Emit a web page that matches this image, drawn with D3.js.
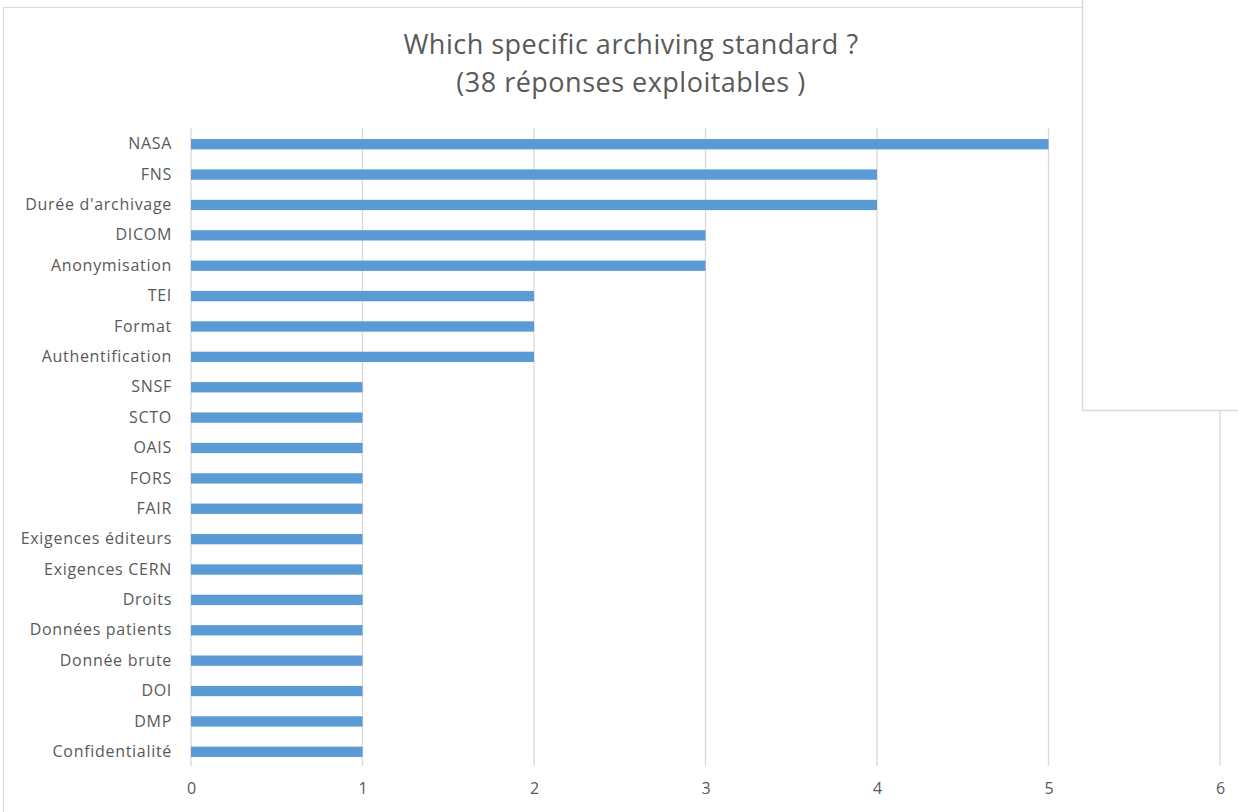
<!DOCTYPE html>
<html><head><meta charset="utf-8">
<script src="https://cdn.jsdelivr.net/npm/d3@7"></script>
<style>body{margin:0;background:#fff;} svg{display:block;}</style>
</head><body>
<script>
const categories = ["NASA","FNS","Durée d'archivage","DICOM","Anonymisation","TEI","Format","Authentification","SNSF","SCTO","OAIS","FORS","FAIR","Exigences éditeurs","Exigences CERN","Droits","Données patients","Donnée brute","DOI","DMP","Confidentialité"];
const values = [5,4,4,3,3,2,2,2,1,1,1,1,1,1,1,1,1,1,1,1,1];
const xTicks = [0,1,2,3,4,5,6];
const titleLines = ["Which specific archiving standard ?","(38 réponses exploitables )"];

const W=1238,H=812;
const svg=d3.select("body").append("svg").attr("width",W).attr("height",H);
const font="'Open Sans', sans-serif";
svg.append("rect").attr("x",3.5).attr("y",7.5).attr("width",1300).attr("height",900).attr("fill","#fff").attr("stroke","#d9d9d9");

const x=d3.scaleLinear().domain([0,6]).range([191,1220]);
const y=d3.scaleBand().domain(categories).range([129,767]).paddingInner(0.66).paddingOuter(0.33);

svg.append("g").selectAll("line").data(xTicks).join("line")
 .attr("x1",d=>x(d)).attr("x2",d=>x(d)).attr("y1",128).attr("y2",766)
 .attr("stroke","#d9d9d9").attr("stroke-width",1.3);

svg.append("g").selectAll("rect").data(categories).join("rect")
 .attr("x",x(0)).attr("y",d=>y(d)).attr("height",y.bandwidth())
 .attr("width",(d,i)=>x(values[i])-x(0)).attr("fill","#5b9bd5");

const xa=svg.append("g").attr("transform","translate(0,766)").call(d3.axisBottom(x).tickValues(xTicks).tickFormat(d3.format("d")).tickSize(0).tickPadding(17));
xa.select(".domain").remove();
xa.selectAll("text").attr("font-family",font).attr("font-size",16).attr("fill","#595959");

const ya=svg.append("g").attr("transform","translate(191,0)").call(d3.axisLeft(y).tickSize(0).tickPadding(19));
ya.select(".domain").remove();
ya.selectAll("text").attr("font-family",font).attr("font-size",16).attr("letter-spacing","0.7px").attr("fill","#595959");

svg.append("g").selectAll("text").data(titleLines).join("text")
 .attr("x",631).attr("y",(d,i)=>54+i*38).attr("text-anchor","middle")
 .attr("font-family",font).attr("font-size",27).attr("letter-spacing","0.5px").attr("fill","#595959").text(d=>d);

// overlapping box at the top right
svg.append("rect").attr("x",1082.5).attr("y",-2).attr("width",200).attr("height",412.5)
 .attr("fill","#fff").attr("stroke","#d9d9d9").attr("stroke-width",1.5);
</script>
</body></html>
